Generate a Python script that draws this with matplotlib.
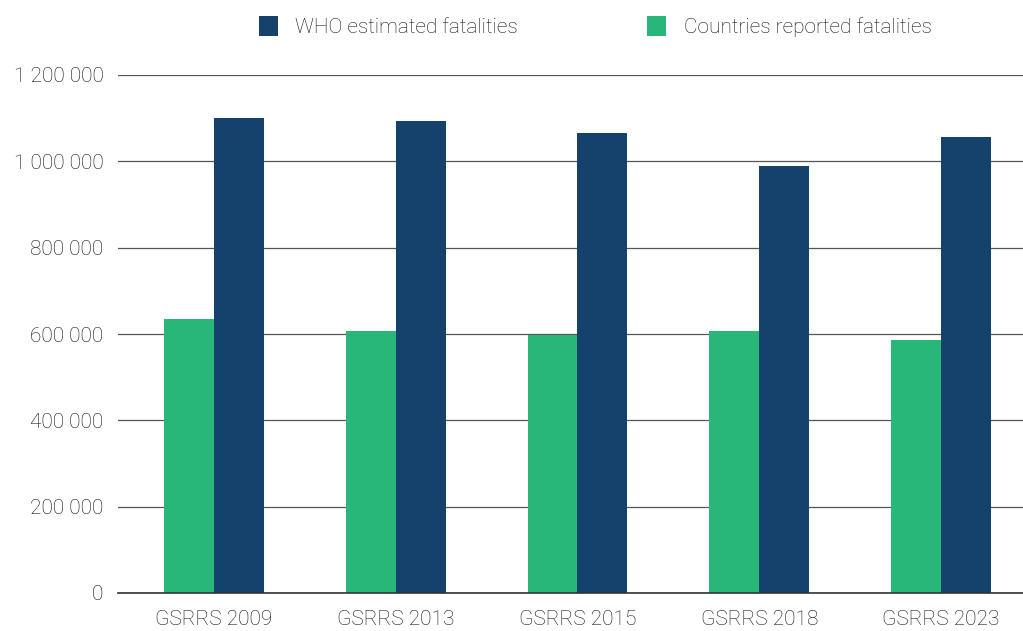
import numpy as np
import matplotlib.pyplot as plt
from matplotlib.ticker import FuncFormatter

plt.rcParams['font.family'] = ['Roboto', 'DejaVu Sans']
plt.rcParams['font.weight'] = 'light'

# data
editions = ['GSRRS 2009', 'GSRRS 2013', 'GSRRS 2015', 'GSRRS 2018', 'GSRRS 2023']
who_estimated = [1100000, 1093000, 1065000, 989000, 1056000]
countries_reported = [635000, 607000, 598000, 607000, 586000]

navy = '#15426c'
green = '#28b779'
text_col = '#111111'

fig = plt.figure(figsize=(10.23, 6.31), dpi=100)
ax = fig.add_axes([118/1023, 38/631, (1023-118)/1023, 518/631])

x = np.arange(len(editions))
w = 0.275
b_green = ax.bar(x - w/2, countries_reported, width=w, color=green, zorder=3)
b_navy = ax.bar(x + w/2, who_estimated, width=w, color=navy, zorder=3)

ax.set_xlim(-0.528, 4.451)
ax.set_ylim(0, 1200000)
ax.set_yticks(np.arange(0, 1200001, 200000))
ax.yaxis.set_major_formatter(FuncFormatter(lambda v, p: f'{int(v):,}'.replace(',', ' ')))
ax.set_xticks(x)
ax.set_xticklabels(editions)

ax.grid(axis='y', color='#555555', linewidth=0.9, zorder=0)
for s in ['top', 'right', 'left']:
    ax.spines[s].set_visible(False)
ax.spines['bottom'].set_color('#333333')
ax.spines['bottom'].set_linewidth(1.2)
ax.spines['bottom'].set_zorder(4)
ax.tick_params(axis='both', length=0, labelsize=15, labelcolor=text_col)
ax.tick_params(axis='y', pad=10.5)
ax.tick_params(axis='x', pad=12)

fig.legend([b_navy, b_green], ['WHO estimated fatalities', 'Countries reported fatalities'],
           loc='center', bbox_to_anchor=(0.582, 0.958), ncol=2, frameon=False,
           fontsize=15, labelcolor=text_col, handlelength=0.9, handleheight=1.1,
           handletextpad=0.85, columnspacing=6.2)

fig.savefig('out.png', dpi=100)
